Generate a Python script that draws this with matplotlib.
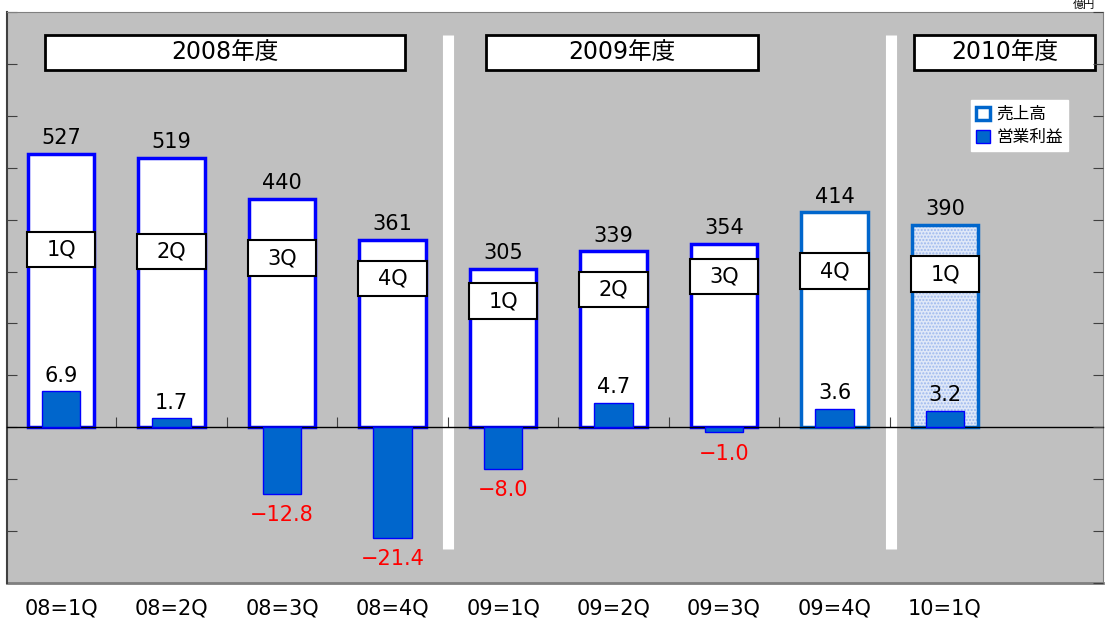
import numpy as np
import matplotlib
matplotlib.use("Agg")
import matplotlib.pyplot as plt
from matplotlib.patches import Rectangle, Patch

plt.rcParams['font.family'] = ['DejaVu Sans', 'Noto Sans CJK JP']

# データ(億円)
quarters = ["08=1Q", "08=2Q", "08=3Q", "08=4Q", "09=1Q", "09=2Q", "09=3Q", "09=4Q", "10=1Q"]
q_labels = ["1Q", "2Q", "3Q", "4Q", "1Q", "2Q", "3Q", "4Q", "1Q"]
sales = [527, 519, 440, 361, 305, 339, 354, 414, 390]
profit = [6.9, 1.7, -12.8, -21.4, -8.0, 4.7, -1.0, 3.6, 3.2]
years = ["2008年度", "2009年度", "2010年度"]

# レイアウト
q_label_y = [342, 338, 326, 286, 243, 266, 291, 301, 295]   # 四半期ラベルの高さ(売上軸)
year_box_x = [(-0.145, 3.11), (3.846, 6.31), (7.72, 9.36)]
separators = [3.50, 7.51]
edge_cols = ["#0000FF"] * 7 + ["#0066CC"] * 2

fig = plt.figure(figsize=(11.05, 6.21), dpi=100)
ax = fig.add_axes([7 / 1105, 38 / 621, 1096 / 1105, 571 / 621])
ax.set_facecolor("#C0C0C0")
x = np.arange(len(quarters))

ax.set_xlim(-0.49, 9.43)
ax.set_ylim(-300, 800)

# 年度の区切り線
for sx in separators:
    ax.vlines(sx, -234, 755, colors="white", lw=8, capstyle="butt", zorder=1)

# 年度ボックス
for (x0, x1), name in zip(year_box_x, years):
    ax.add_patch(Rectangle((x0, 688), x1 - x0, 68, facecolor="white",
                           edgecolor="black", lw=2, zorder=3))
    ax.text((x0 + x1) / 2, 722, name, ha="center", va="center", fontsize=17, zorder=4)

# 売上高
for i in range(len(sales)):
    if i == len(sales) - 1:
        ax.bar(x[i], sales[i], 0.6, color="#dfe8f8", hatch=".....",
               edgecolor="#9db8ee", lw=0, zorder=2)
        ax.bar(x[i], sales[i], 0.6, fill=False, edgecolor=edge_cols[i], lw=2.5, zorder=2)
    else:
        ax.bar(x[i], sales[i], 0.6, color="white", edgecolor=edge_cols[i], lw=2.5, zorder=2)
    ax.annotate(f"{sales[i]}", (x[i], sales[i]), xytext=(0, 4), textcoords="offset points",
                ha="center", va="bottom", fontsize=15)
    ax.add_patch(Rectangle((x[i] - 0.31, q_label_y[i] - 34), 0.62, 68, facecolor="white",
                           edgecolor="black", lw=1.5, zorder=3))
    ax.text(x[i], q_label_y[i], q_labels[i], ha="center", va="center", fontsize=15, zorder=4)

# 軸
ax.set_yticks(range(-300, 801, 100))
ax.set_xticks(x[:-1] + 0.5)
ax.tick_params(axis="x", direction="in", length=7, color="#404040", labelbottom=False)
ax.tick_params(axis="y", direction="in", length=7, color="#404040", labelleft=False)
ax.spines["bottom"].set_position(("data", 0))
ax.spines["bottom"].set_color("black")
ax.spines["bottom"].set_linewidth(1)
ax.spines["left"].set_color("#404040")
ax.spines["left"].set_linewidth(1.5)
for s in ["top", "right"]:
    ax.spines[s].set_color("#808080")
ax.plot([0, 1], [0, 0], transform=ax.transAxes, color="#808080", lw=2, clip_on=False)

for xi, q in zip(x, quarters):
    ax.text(xi, -0.044, q, transform=ax.get_xaxis_transform(), ha="center", va="center",
            fontsize=15)

# 営業利益
ax2 = ax.twinx()
ax2.set_ylim(-30, 80)
ax2.bar(x, profit, 0.35, color="#0066CC", edgecolor="#0000FF", lw=1, zorder=3)
for xi, p in zip(x, profit):
    if p >= 0:
        ax2.annotate(f"{p:.1f}", (xi, p), xytext=(0, 4), textcoords="offset points",
                     ha="center", va="bottom", fontsize=15)
    else:
        ax2.annotate(f"\u2212{abs(p):.1f}", (xi, p), xytext=(0, -8), textcoords="offset points",
                     ha="center", va="top", fontsize=15, color="#FF0000")
ax2.set_yticks(range(-30, 81, 10))
ax2.tick_params(axis="y", direction="in", length=7, color="#404040", labelright=False)
for s in ax2.spines.values():
    s.set_visible(False)

handles = [Patch(facecolor="white", edgecolor="#0066CC", lw=2.5, label="売上高"),
           Patch(facecolor="#0066CC", edgecolor="#0000FF", lw=1, label="営業利益")]
leg = ax2.legend(handles=handles, loc="upper left", bbox_to_anchor=(0.880, 0.846),
                 fontsize=12, frameon=True, fancybox=False, framealpha=1,
                 handlelength=0.8, handleheight=0.8, handletextpad=0.4,
                 borderpad=0.3, labelspacing=0.3, borderaxespad=0)
leg.get_frame().set_edgecolor("white")

fig.text(1095 / 1105, 1.0, "億円", ha="right", va="top", fontsize=8)

fig.savefig("out.png", dpi=100)
